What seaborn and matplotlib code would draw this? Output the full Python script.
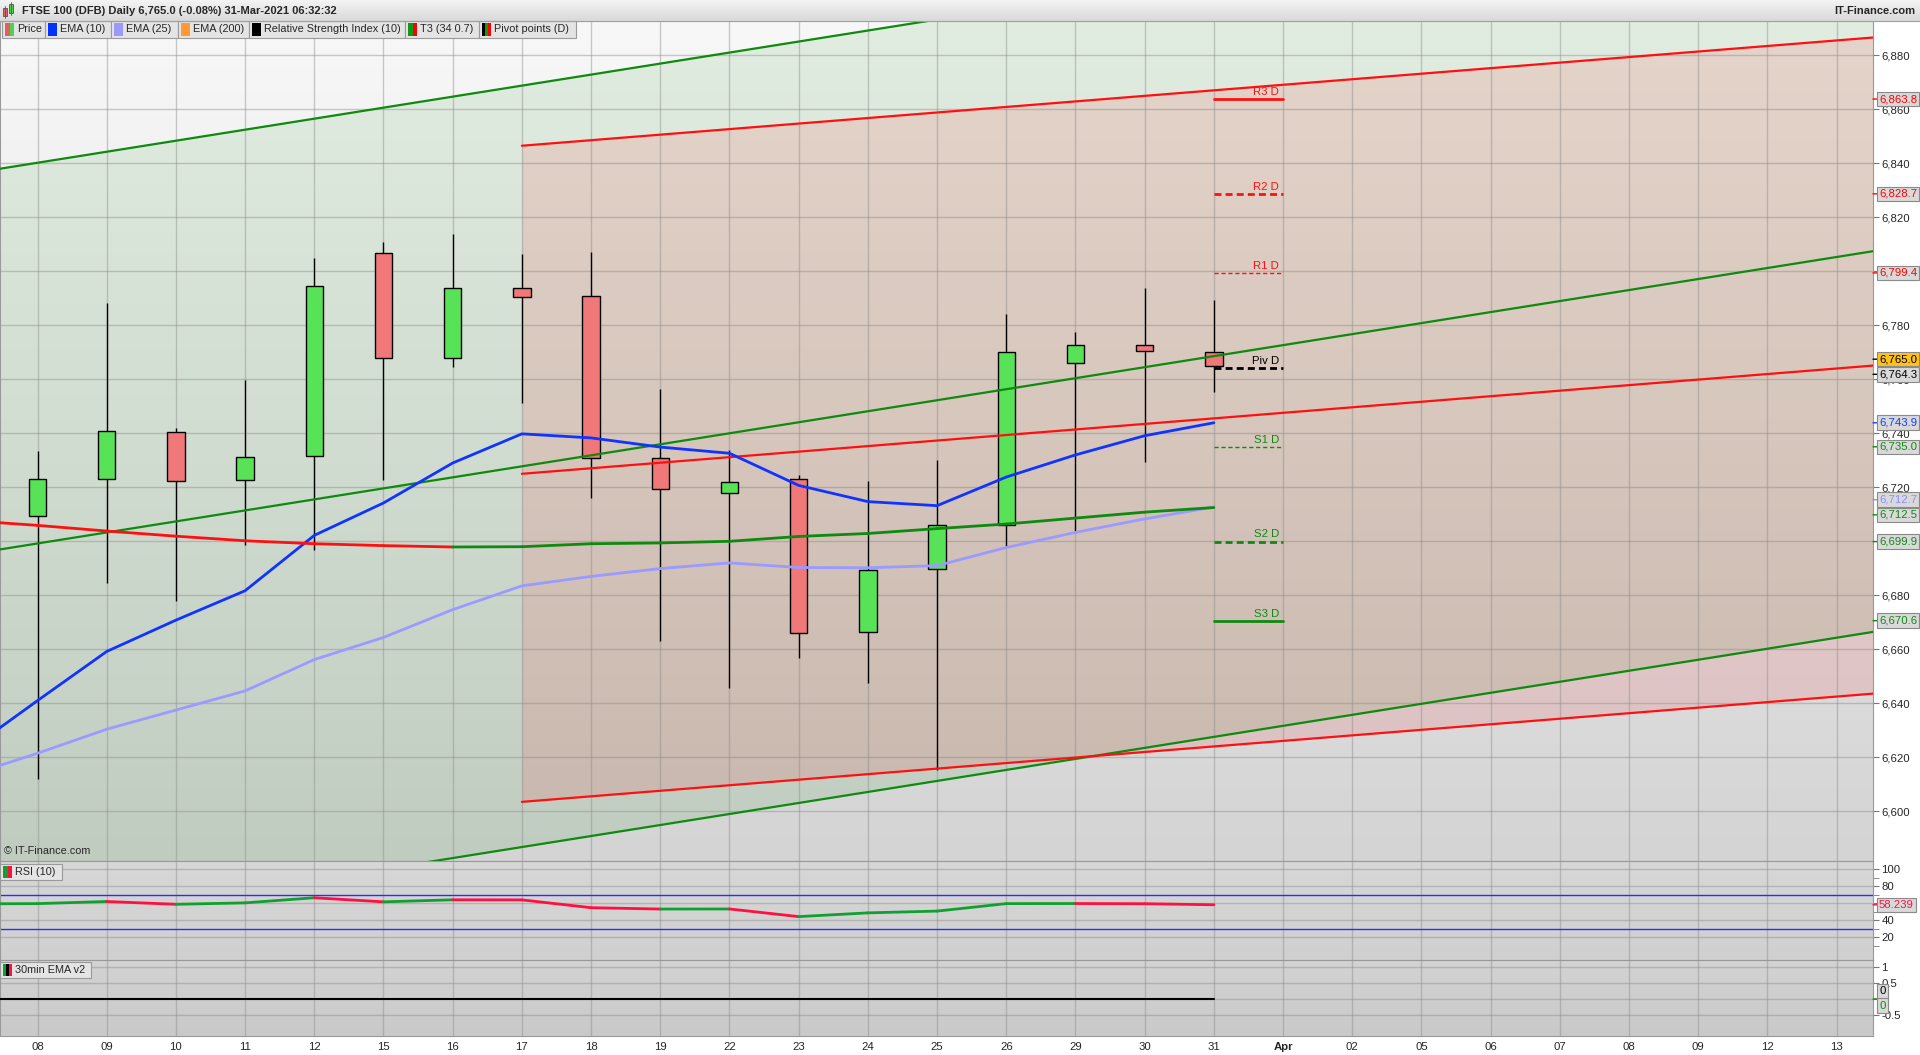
import matplotlib
matplotlib.use('Agg')
import matplotlib.pyplot as plt
import matplotlib.patches as mpatches
from matplotlib.colors import LinearSegmentedColormap
import numpy as np
import pandas as pd
import seaborn as sns

# x axis: trading days, index 0 = 08 Mar 2021
day_labels = ['08', '09', '10', '11', '12', '15', '16', '17', '18', '19', '22', '23', '24', '25',
              '26', '29', '30', '31', 'Apr', '02', '05', '06', '07', '08', '09', '12', '13']

# daily candles 08 Mar .. 31 Mar
candle_open = [6709.4, 6723.0, 6740.5, 6722.7, 6731.5, 6806.7, 6767.9, 6793.8, 6790.8,
               6730.9, 6717.9, 6723.1, 6666.5, 6689.9, 6706.2, 6766.0, 6772.7, 6770.1]
candle_high = [6733.6, 6788.4, 6742.0, 6759.8, 6805.0, 6811.0, 6813.9, 6806.5, 6807.2,
               6756.5, 6734.0, 6724.6, 6722.2, 6730.2, 6784.3, 6777.6, 6793.9, 6789.5]
candle_low = [6612.0, 6684.5, 6678.0, 6698.5, 6696.8, 6722.6, 6764.5, 6751.3, 6716.0,
              6663.0, 6645.7, 6656.6, 6647.4, 6615.3, 6698.1, 6703.7, 6729.2, 6755.4]
candle_close = [6723.0, 6740.8, 6722.3, 6731.2, 6794.5, 6767.9, 6793.8, 6790.4, 6730.9,
                6719.3, 6722.0, 6666.1, 6689.5, 6706.0, 6770.1, 6772.7, 6770.5, 6765.0]

# indicators, 05 Mar .. 31 Mar (first point sits just off the left edge)
ema10 = [6622.5, 6641.0, 6659.2, 6670.8, 6681.7, 6702.2, 6714.2, 6729.0, 6739.8, 6738.3,
         6734.9, 6732.6, 6720.7, 6714.7, 6713.2, 6723.8, 6732.0, 6739.1, 6743.9]
ema25 = [6613.2, 6621.5, 6630.4, 6637.5, 6644.6, 6656.2, 6664.4, 6674.7, 6683.5, 6687.0,
         6689.9, 6692.0, 6690.3, 6690.2, 6691.0, 6697.7, 6703.3, 6708.3, 6712.7]
t3 = [6707.7, 6705.9, 6703.8, 6701.9, 6700.2, 6699.1, 6698.4, 6697.9, 6698.0, 6699.1,
      6699.4, 6700.0, 6701.8, 6702.9, 6704.7, 6706.4, 6708.6, 6710.8, 6712.5]
rsi = [59.3, 59.6, 62.1, 58.8, 60.5, 66.5, 61.7, 64.1, 64.0, 54.8, 53.2, 53.3,
       44.3, 48.7, 50.8, 59.6, 59.7, 59.5, 58.239]
ema_osc = [0.0] * 19

# regression channels (mid line anchors, half width)
green_channel_days = [0, 26]
green_channel_mid = [6699.2, 6805.3]
green_channel_half = 141.0
red_channel_days = [7, 26]
red_channel_mid = [6725.0, 6764.0]
red_channel_half = 121.5

# daily pivot points
pivot_names = ['R3 D', 'R2 D', 'R1 D', 'Piv D', 'S1 D', 'S2 D', 'S3 D']
pivot_values = [6863.8, 6828.7, 6799.4, 6764.3, 6735.0, 6699.9, 6670.6]

# price tags on the right scale
tag_values = [6863.8, 6828.7, 6799.4, 6765.0, 6764.3, 6743.9, 6735.0, 6712.7, 6712.5, 6699.9, 6670.6]
tag_colors = ['#ff0000', '#ff0000', '#ff0000', 'black', 'black', '#1a3cff', '#108a10',
              '#8c8cff', '#108a10', '#108a10', '#108a10']
tag_faces = ['#d9d9d9'] * 3 + ['#ffc21a'] + ['#d9d9d9'] * 7

RED = '#ff1010'
GREEN = '#0e8a0e'

sns.set_style('ticks')
plt.rcParams['font.family'] = ['Liberation Sans', 'DejaVu Sans']

W, H = 1920, 1055
fig = plt.figure(figsize=(W / 100, H / 100), dpi=100, facecolor='white')


def px_axes(x0, y0, x1, y1):
    return fig.add_axes([x0 / W, 1 - y1 / H, (x1 - x0) / W, (y1 - y0) / H])


def gradient(axis, top, bottom, xlim, ylim):
    cmap = LinearSegmentedColormap.from_list('bg', [bottom, top])
    grad = np.linspace(0, 1, 256).reshape(-1, 1)
    axis.imshow(grad, cmap=cmap, aspect='auto', origin='lower',
                extent=(xlim[0], xlim[1], ylim[0], ylim[1]), zorder=0)


def line_at(days, vals, x):
    slope = (vals[1] - vals[0]) / (days[1] - days[0])
    return vals[0] + slope * (np.asarray(x, dtype=float) - days[0])


def add_tag(axis, y, text, color, face, tick=True):
    axis.annotate(text, xy=(1, y), xycoords=('axes fraction', 'data'), xytext=(6, 0),
                  textcoords='offset pixels', ha='left', va='center', fontsize=8.2, color=color,
                  annotation_clip=False, zorder=20,
                  bbox=dict(boxstyle='square,pad=0.2', fc=face, ec='#8a8a8a', lw=0.8))
    if tick:
        axis.annotate('', xy=(1, y), xycoords=('axes fraction', 'data'), xytext=(5, 0),
                      textcoords='offset pixels', annotation_clip=False,
                      arrowprops=dict(arrowstyle='-', color=color, lw=1, shrinkA=0, shrinkB=0))


def spread(values, gap):
    pos = list(values)
    for _ in range(60):
        moved = False
        for k in range(len(pos) - 1):
            if pos[k] - pos[k + 1] < gap:
                c = (pos[k] + pos[k + 1]) / 2
                pos[k], pos[k + 1] = c + gap / 2, c - gap / 2
                moved = True
        if not moved:
            break
    return pos


xlim = (-0.542, 26.525)
days = np.arange(len(day_labels))
candles = pd.DataFrame({'day': np.arange(len(candle_open)), 'open': candle_open,
                        'high': candle_high, 'low': candle_low, 'close': candle_close})
ind = pd.DataFrame({'day': np.arange(-1, len(ema10) - 1), 'ema10': ema10, 'ema25': ema25,
                    't3': t3, 'rsi': rsi, 'osc': ema_osc})

# ---------------- main price panel ----------------
ax = px_axes(0, 21, 1873, 861)
ylim = (6581.6, 6892.7)
gradient(ax, '#f8f8f8', '#d4d4d4', xlim, ylim)

gx = np.array(xlim)
gmid = line_at(green_channel_days, green_channel_mid, gx)
ax.fill_between(gx, gmid - green_channel_half, gmid + green_channel_half,
                color='#008000', alpha=0.085, lw=0, zorder=1)
rx = np.array([red_channel_days[0], xlim[1]])
rmid = line_at(red_channel_days, red_channel_mid, rx)
ax.fill_between(rx, rmid - red_channel_half, rmid + red_channel_half,
                color='#ff0000', alpha=0.10, lw=0, zorder=1)
for off in (-green_channel_half, 0, green_channel_half):
    ax.plot(gx, gmid + off, color=GREEN, lw=1.6, zorder=4)
for off in (-red_channel_half, 0, red_channel_half):
    ax.plot(rx, rmid + off, color=RED, lw=1.6, zorder=4)

# candles
up = candles['close'] >= candles['open']
ax.vlines(candles['day'], candles['low'], candles['high'], color='black', lw=1, zorder=3)
ax.bar(candles['day'], (candles['close'] - candles['open']).abs(),
       bottom=np.minimum(candles['open'], candles['close']), width=0.25,
       color=np.where(up, '#58e258', '#f07878'), edgecolor='black', lw=1, zorder=3.5)

# moving averages
sns.lineplot(data=ind, x='day', y='ema25', ax=ax, color='#9a9aff', lw=2, zorder=5)
sns.lineplot(data=ind, x='day', y='ema10', ax=ax, color='#1033ff', lw=2, zorder=5)
for k in range(len(ind) - 1):
    c = GREEN if t3[k + 1] > t3[k] else RED
    ax.plot(ind['day'][k:k + 2], t3[k:k + 2], color=c, lw=2, zorder=5, solid_capstyle='round')

# pivots
piv_colors = [RED, RED, RED, 'black', GREEN, GREEN, GREEN]
piv_styles = ['-', (0, (2.5, 1.5)), (0, (3, 2)), (0, (2.5, 1.5)), (0, (3, 2)), (0, (2.5, 1.5)), '-']
piv_widths = [2, 2, 1, 2, 1, 2, 2]
for name, val, c, ls, lw in zip(pivot_names, pivot_values, piv_colors, piv_styles, piv_widths):
    ax.plot([17, 18], [val, val], color=c, ls=ls, lw=lw, zorder=6)
    ax.annotate(name, xy=(17.94, val), xytext=(0, 1.5), textcoords='offset points',
                ha='right', va='bottom', fontsize=8.2, color=c, zorder=6)

ax.set_xlim(xlim)
ax.set_ylim(ylim)
ax.set_xlabel('')
ax.set_ylabel('')
yt = np.arange(6600, 6881, 20)
ax.set_yticks(yt)
ax.set_yticklabels([f'{v:,}' for v in yt])
ax.get_yticklabels()[0].set_fontweight('bold')
ax.yaxis.tick_right()
ax.set_xticks(days)
ax.set_xticklabels([])
ax.tick_params(axis='y', length=4, pad=2, labelsize=8.2, color='#777777')
ax.tick_params(axis='x', length=0)
ax.set_axisbelow('line')
ax.grid(True, color='#8c8c8c', lw=1, alpha=0.45)
for s in ax.spines.values():
    s.set_color('#999999')

for y, text, c, f in zip(spread(tag_values, 5.6), tag_values, tag_colors, tag_faces):
    add_tag(ax, y, f'{text:,.1f}', c, f)

ax.text(0.002, 0.008, '© IT-Finance.com', transform=ax.transAxes, fontsize=7.8, zorder=10)

# ---------------- RSI panel ----------------
ax_rsi = px_axes(0, 861, 1873, 960)
rlim = (-6.8, 109.8)
gradient(ax_rsi, '#d7d7d7', '#d0d0d0', xlim, rlim)
for lvl in (70, 30):
    ax_rsi.axhline(lvl, color='#2b2bff', lw=1, zorder=2)
for k in range(len(ind) - 1):
    c = '#10a030' if rsi[k + 1] > rsi[k] else '#ff1040'
    ax_rsi.plot(ind['day'][k:k + 2], rsi[k:k + 2], color=c, lw=2, zorder=4, solid_capstyle='round')
ax_rsi.set_xlim(xlim)
ax_rsi.set_ylim(rlim)
ax_rsi.set_yticks([20, 40, 60, 80, 100])
ax_rsi.set_yticklabels(['20', '40', '60', '80', '100'])
ax_rsi.get_yticklabels()[-1].set_fontweight('bold')
ax_rsi.set_yticks([10, 30, 50, 70, 90], minor=True)
ax_rsi.yaxis.tick_right()
ax_rsi.set_xticks(days)
ax_rsi.set_xticklabels([])
ax_rsi.tick_params(axis='y', which='both', length=4, pad=2, labelsize=8.2, color='#777777')
ax_rsi.tick_params(axis='x', length=0)
ax_rsi.set_axisbelow('line')
ax_rsi.grid(True, which='major', color='#8c8c8c', lw=1, alpha=0.45)
for s in ax_rsi.spines.values():
    s.set_color('#999999')
add_tag(ax_rsi, rsi[-1], f'{rsi[-1]:.3f}', '#ff1040', '#d9d9d9')

# ---------------- 30min EMA panel ----------------
ax_osc = px_axes(0, 960, 1873, 1036)
olim = (-1.17, 1.23)
gradient(ax_osc, '#d3d3d3', '#c9c9c9', xlim, olim)
ax_osc.plot(ind['day'], ind['osc'], color='black', lw=1.5, zorder=4)
ax_osc.set_xlim(xlim)
ax_osc.set_ylim(olim)
ax_osc.set_yticks([-0.5, 0, 0.5, 1])
ax_osc.set_yticklabels(['-0.5', '0', '0.5', '1'])
ax_osc.yaxis.tick_right()
ax_osc.set_xticks(days)
ax_osc.set_xticklabels(day_labels)
for lbl in ax_osc.get_xticklabels():
    if lbl.get_text() == 'Apr':
        lbl.set_fontweight('bold')
ax_osc.tick_params(axis='y', length=4, pad=2, labelsize=8.2, color='#777777')
ax_osc.tick_params(axis='x', length=0, pad=4, labelsize=8.2)
ax_osc.set_axisbelow('line')
ax_osc.grid(True, color='#8c8c8c', lw=1, alpha=0.45)
for s in ax_osc.spines.values():
    s.set_color('#999999')
add_tag(ax_osc, 0.24, '0', 'black', '#d9d9d9', tick=False)
add_tag(ax_osc, -0.21, '0', '#108a10', '#d9d9d9', tick=False)
ax_osc.annotate('', xy=(1, 0), xycoords=('axes fraction', 'data'), xytext=(5, 0),
                textcoords='offset pixels', annotation_clip=False,
                arrowprops=dict(arrowstyle='-', color='#108a10', lw=1, shrinkA=0, shrinkB=0))

# ---------------- header / legend overlay ----------------
hdr = fig.add_axes([0, 0, 1, 1], zorder=30)
hdr.patch.set_alpha(0)
cm = LinearSegmentedColormap.from_list('hb', ['#d9d9d9', '#f4f4f4'])
hdr.imshow(np.linspace(0, 1, 64).reshape(-1, 1), cmap=cm, aspect='auto', origin='lower',
           extent=(0, W, 21, 0))
hdr.plot([0, W], [21, 21], color='#a0a0a0', lw=0.8)
hdr.set_xlim(0, W)
hdr.set_ylim(H, 0)
hdr.axis('off')

# title icon
hdr.add_patch(mpatches.Rectangle((3, 8), 4, 8, fc='#e06060', ec='#555555', lw=0.6))
hdr.plot([5, 5], [6, 18], color='#555555', lw=0.6)
hdr.add_patch(mpatches.Rectangle((9, 4), 4, 9, fc='#50d050', ec='#555555', lw=0.6))
hdr.plot([11, 11], [2, 15], color='#555555', lw=0.6)
hdr.text(22, 11, 'FTSE 100 (DFB) Daily 6,765.0 (-0.08%) 31-Mar-2021 06:32:32',
         va='center', fontsize=8, weight='bold')
hdr.text(1915, 11, 'IT-Finance.com', va='center', ha='right', fontsize=8, weight='bold')


def legend_box(x0, x1, y0, y1, text, colors):
    hdr.add_patch(mpatches.Rectangle((x0, y0), x1 - x0, y1 - y0, fc='#e4e4e4', ec='#9a9a9a', lw=0.8))
    n = len(colors)
    for j, c in enumerate(colors):
        hdr.add_patch(mpatches.Rectangle((x0 + 3 + j * 9 / n, y0 + 2), 9 / n, y1 - y0 - 4, fc=c, lw=0))
    hdr.text(x0 + 15, (y0 + y1) / 2, text, va='center', fontsize=7.8)


legend_items = [('Price', ['#e06060', '#50d050']), ('EMA (10)', ['#0033ff']),
                ('EMA (25)', ['#9999ff']), ('EMA (200)', ['#ff9933']),
                ('Relative Strength Index (10)', ['#000000']), ('T3 (34 0.7)', ['#119911', '#ff0000']),
                ('Pivot points (D)', ['#000000', '#119911', '#ff0000'])]
edges = [2, 45, 111, 178, 249, 405, 479, 576]
for (text, cols), a, b in zip(legend_items, edges[:-1], edges[1:]):
    legend_box(a, b, 21, 38, text, cols)

legend_box(0, 62, 864, 880, 'RSI (10)', ['#10a030', '#ff1040'])
legend_box(0, 91, 962, 978, '30min EMA v2', ['#10a030', '#000000', '#ff1040'])

fig.savefig('out.png', dpi=100, facecolor='white')
